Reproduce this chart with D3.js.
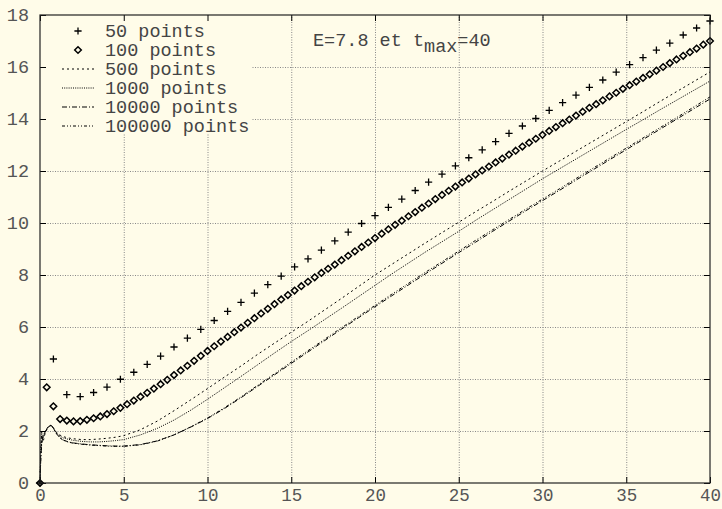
<!DOCTYPE html>
<html>
<head>
<meta charset="utf-8">
<script src="https://cdn.jsdelivr.net/npm/d3@7"></script>
<style>
  html, body { margin: 0; padding: 0; background: #fffce9; }
  svg { display: block; }
  text { font-family: "Liberation Mono", "DejaVu Sans Mono", monospace; }
</style>
</head>
<body>
<svg id="chart" width="722" height="509"></svg>
<script>
// Solution of the system for E = 7.8, t in [0, 40], computed with several step counts.
const tMax = 40;

// Tick values
const xTicks = [0, 5, 10, 15, 20, 25, 30, 35, 40];
const yTicks = [0, 2, 4, 6, 8, 10, 12, 14, 16, 18];

// 50 steps (dt = 0.8): one value per step, starting at t = 0
const pts50 = [0, 4.77, 3.40, 3.32, 3.48, 3.69, 3.99, 4.26, 4.56, 4.88,
  5.23, 5.57, 5.91, 6.25, 6.60, 6.95, 7.30, 7.63, 7.96, 8.31,
  8.62, 8.96, 9.31, 9.65, 9.98, 10.28, 10.60, 10.92, 11.25, 11.57,
  11.88, 12.20, 12.51, 12.81, 13.13, 13.45, 13.73, 14.02, 14.33, 14.63,
  14.92, 15.22, 15.50, 15.80, 16.09, 16.36, 16.65, 16.92, 17.23, 17.50,
  17.77];

// 100 steps (dt = 0.4)
const pts100 = [0, 3.68, 2.95, 2.46, 2.40, 2.37, 2.38, 2.43, 2.49, 2.56,
  2.65, 2.76, 2.89, 3.03, 3.17, 3.32, 3.47, 3.63, 3.80, 3.97,
  4.15, 4.33, 4.51, 4.70, 4.89, 5.08, 5.26, 5.44, 5.62, 5.80,
  5.98, 6.16, 6.34, 6.52, 6.70, 6.88, 7.06, 7.23, 7.40, 7.57,
  7.74, 7.91, 8.08, 8.24, 8.40, 8.57, 8.74, 8.91, 9.08, 9.25,
  9.42, 9.59, 9.76, 9.93, 10.09, 10.26, 10.42, 10.59, 10.75, 10.92,
  11.08, 11.24, 11.40, 11.56, 11.71, 11.87, 12.02, 12.17, 12.33, 12.48,
  12.63, 12.78, 12.94, 13.09, 13.24, 13.39, 13.54, 13.69, 13.84, 13.98,
  14.13, 14.28, 14.43, 14.57, 14.72, 14.87, 15.01, 15.16, 15.30, 15.44,
  15.58, 15.72, 15.86, 16.00, 16.15, 16.29, 16.43, 16.57, 16.71, 16.86,
  17.00];

// Fine runs, sampled at these times
const lineT = [0, 0.05, 0.1, 0.15, 0.2, 0.3, 0.4, 0.5, 0.6, 0.7, 0.8, 0.9, 1, 1.2, 1.4, 1.7,
  2, 2.5, 3, 3.5, 4, 4.5, 5, 6, 7, 8, 9, 10, 11, 12, 13, 14, 15, 16, 17, 18, 19, 20,
  21, 22, 23, 24, 25, 26, 27, 28, 29, 30, 31, 32, 33, 34, 35, 36, 37, 38, 39, 40];

const run500 = [0, 1.3, 1.95, 1.75, 1.62, 1.9, 2.05, 2.15, 2.2, 2.2, 2.12, 2.02, 1.94, 1.84, 1.78, 1.73,
  1.7, 1.67, 1.67, 1.69, 1.72, 1.76, 1.82, 2.05, 2.38, 2.78, 3.2, 3.63, 4.07, 4.5, 4.95, 5.38,
  5.8, 6.22, 6.66, 7.1, 7.55, 8.0, 8.41, 8.82, 9.23, 9.63, 10.03, 10.43, 10.82, 11.22, 11.61,
  12.0, 12.38, 12.76, 13.14, 13.52, 13.9, 14.28, 14.67, 15.05, 15.43, 15.81];

const run1000 = [0, 1.5, 1.9, 1.8, 1.75, 1.92, 2.06, 2.16, 2.21, 2.2, 2.12, 2.0, 1.92, 1.8, 1.73, 1.68,
  1.64, 1.6, 1.58, 1.58, 1.6, 1.63, 1.67, 1.85, 2.1, 2.42, 2.8, 3.22, 3.66, 4.1, 4.55, 5.0,
  5.44, 5.86, 6.29, 6.72, 7.16, 7.6, 8.04, 8.46, 8.88, 9.28, 9.68, 10.1, 10.5, 10.9, 11.3,
  11.7, 12.08, 12.46, 12.84, 13.22, 13.6, 13.97, 14.35, 14.72, 15.09, 15.46];

const run10000 = [0, 1.0, 1.5, 1.7, 1.82, 1.96, 2.07, 2.16, 2.21, 2.2, 2.1, 1.98, 1.88, 1.74, 1.65, 1.58,
  1.54, 1.5, 1.47, 1.45, 1.43, 1.42, 1.42, 1.48, 1.62, 1.85, 2.15, 2.48, 2.86, 3.28, 3.72, 4.16,
  4.6, 5.04, 5.48, 5.92, 6.35, 6.78, 7.2, 7.62, 8.04, 8.45, 8.86, 9.26, 9.67, 10.07, 10.47,
  10.86, 11.25, 11.65, 12.04, 12.43, 12.82, 13.21, 13.6, 13.99, 14.38, 14.77];

const run100000 = [0, 1.05, 1.55, 1.72, 1.83, 1.97, 2.08, 2.17, 2.22, 2.21, 2.11, 1.99, 1.88, 1.73, 1.64, 1.57,
  1.53, 1.49, 1.46, 1.44, 1.42, 1.41, 1.41, 1.47, 1.61, 1.85, 2.16, 2.5, 2.89, 3.31, 3.76, 4.2,
  4.65, 5.09, 5.53, 5.97, 6.4, 6.83, 7.26, 7.68, 8.1, 8.51, 8.92, 9.33, 9.73, 10.13, 10.53,
  10.92, 11.31, 11.71, 12.1, 12.49, 12.88, 13.27, 13.66, 14.05, 14.45, 14.85];

const legendLabels = ["50 points", "100 points", "500 points", "1000 points", "10000 points", "100000 points"];

// ---------------------------------------------------------------------------
const W = 722, H = 509;
const BG = "#fffce9";
const FONT = 18.5;
const svg = d3.select("#chart");
svg.append("rect").attr("width", W).attr("height", H).attr("fill", BG);

const x = d3.scaleLinear().domain([0, 40]).range([40, 710]);
const y = d3.scaleLinear().domain([0, 18]).range([483, 15]);

// grid
const grid = svg.append("g");
grid.append("g").attr("transform", "translate(0,483)")
  .call(d3.axisBottom(x).tickValues(xTicks.slice(1, -1)).tickSize(-468).tickFormat(""))
  .call(g => g.select(".domain").remove())
  .selectAll("line").attr("stroke", "#888").attr("stroke-dasharray", "1,1.5");
grid.append("g").attr("transform", "translate(40,0)")
  .call(d3.axisLeft(y).tickValues(yTicks.slice(1, -1)).tickSize(-670).tickFormat(""))
  .call(g => g.select(".domain").remove())
  .selectAll("line").attr("stroke", "#888").attr("stroke-dasharray", "1,1.5");

// key background hides the grid behind it
svg.append("rect").attr("x", 41).attr("y", 16).attr("width", 210).attr("height", 118).attr("fill", BG);

// curves
const line = d3.line().x(d => x(d[0])).y(d => y(d[1]));
const runs = [
  { vals: run500, dash: "2,3" },
  { vals: run1000, dash: "1,1.2" },
  { vals: run10000, dash: "5,2,1,2" },
  { vals: run100000, dash: "3,2,1,2,1,2" }
];
runs.forEach(r => {
  svg.append("path")
    .datum(lineT.map((t, i) => [t, r.vals[i]]))
    .attr("d", line)
    .attr("fill", "none")
    .attr("stroke", "#000")
    .attr("stroke-width", 1)
    .attr("stroke-dasharray", r.dash);
});

// point markers
const plusPath = s => `M${-s},0H${s}M0,${-s}V${s}`;
const diamondPath = s => `M0,${-s}L${s},0L0,${s}L${-s},0Z`;

const dt50 = tMax / 50, dt100 = tMax / 100;
svg.append("g").selectAll("path").data(pts50).join("path")
  .attr("transform", (d, i) => `translate(${x(i * dt50)},${y(d)})`)
  .attr("d", plusPath(3.6))
  .attr("fill", "none").attr("stroke", "#000").attr("stroke-width", 1.3);

svg.append("g").selectAll("path").data(pts100).join("path")
  .attr("transform", (d, i) => `translate(${x(i * dt100)},${y(d)})`)
  .attr("d", diamondPath(3.3))
  .attr("fill", "none").attr("stroke", "#000").attr("stroke-width", 1.5);

// axes with inward ticks, mirrored on top and right
function styleAxis(size) {
  return g => {
    g.select(".domain").remove();
    g.selectAll(".tick line").attr("stroke", "#000");
    g.selectAll("text").attr("font-size", size).attr("fill", "#555")
      .attr("font-family", '"Liberation Mono", monospace');
  };
}
svg.append("g").attr("transform", "translate(0,483)")
  .call(d3.axisBottom(x).tickValues(xTicks).tickSizeInner(-6).tickSizeOuter(0).tickPadding(6))
  .call(styleAxis(17.5));
svg.append("g").attr("transform", "translate(40,0)")
  .call(d3.axisLeft(y).tickValues(yTicks).tickSizeInner(-6).tickSizeOuter(0).tickPadding(11))
  .call(styleAxis(FONT));
svg.append("g").attr("transform", "translate(0,15)")
  .call(d3.axisTop(x).tickValues(xTicks).tickSizeInner(-6).tickSizeOuter(0).tickFormat(""))
  .call(styleAxis(FONT));
svg.append("g").attr("transform", "translate(710,0)")
  .call(d3.axisRight(y).tickValues(yTicks).tickSizeInner(-6).tickSizeOuter(0).tickFormat(""))
  .call(styleAxis(FONT));

// frame
svg.append("rect").attr("x", 40).attr("y", 15).attr("width", 670).attr("height", 468)
  .attr("fill", "none").attr("stroke", "#222").attr("stroke-width", 1.2);

// key
const key = svg.append("g");
legendLabels.forEach((lab, i) => {
  const cy = 31 + i * 19;
  key.append("text").attr("x", 105).attr("y", cy + 5.5)
    .attr("font-size", FONT).attr("fill", "#444").text(lab);
  if (i === 0) {
    key.append("path").attr("transform", `translate(78,${cy})`).attr("d", plusPath(3.6))
      .attr("fill", "none").attr("stroke", "#000").attr("stroke-width", 1.3);
  } else if (i === 1) {
    key.append("path").attr("transform", `translate(78,${cy})`).attr("d", diamondPath(3.3))
      .attr("fill", "none").attr("stroke", "#000").attr("stroke-width", 1.5);
  } else {
    key.append("line").attr("x1", 62).attr("x2", 94).attr("y1", cy).attr("y2", cy)
      .attr("stroke", "#000").attr("stroke-width", 1)
      .attr("stroke-dasharray", runs[i - 2].dash);
  }
});

// title
const title = svg.append("text").attr("x", 313).attr("y", 46)
  .attr("font-size", FONT).attr("fill", "#444");
title.append("tspan").text("E=7.8 et t");
title.append("tspan").attr("dy", 6).text("max");
title.append("tspan").attr("dy", -6).text("=40");
</script>
</body>
</html>
